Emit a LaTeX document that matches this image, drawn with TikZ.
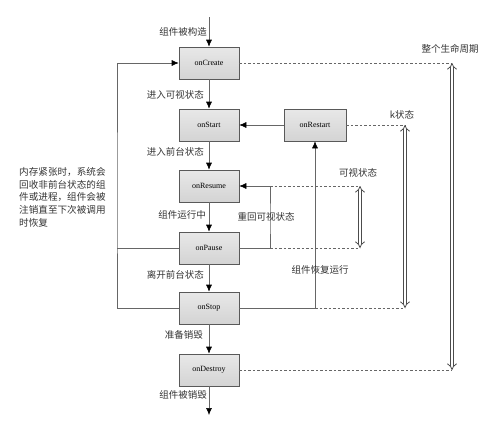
\documentclass[tikz,border=0pt]{standalone}
\usepackage{fontspec}
\setmainfont{Liberation Serif}
\newfontfamily\cjk{Noto Sans CJK SC}
\usetikzlibrary{arrows.meta}
\begin{document}
\begin{tikzpicture}[x=1pt,y=-1pt,
 box/.style={draw=black!65, top color=black!9, bottom color=black!17, minimum width=60pt, minimum height=32pt, inner sep=0pt, font=\fontsize{8}{9}\selectfont, line width=0.6pt},
 lbl/.style={font=\cjk\fontsize{9.5}{11}\selectfont, text=black!80, inner sep=0pt},
 flow/.style={draw=black!60, line width=0.6pt, -{Latex[length=7pt,width=6pt,color=black]}},
 ln/.style={draw=black!60, line width=0.6pt},
 dsh/.style={draw=black!60, line width=0.5pt, dash pattern=on 2.5pt off 2pt},
 dbl/.style={draw=black!70, double=white, line width=0.8pt, double distance=2.6pt, {Implies[length=5pt]}-{Implies[length=5pt]}}]
\useasboundingbox (0,0) rectangle (501,423);

% boxes
\node[box] (create)  at (209,63)  {onCreate};
\node[box] (start)   at (209,125) {onStart};
\node[box] (resume)  at (209,186) {onResume};
\node[box] (pause)   at (209,248) {onPause};
\node[box] (stop)    at (209,308) {onStop};
\node[box] (destroy) at (209,370) {onDestroy};
\node[box, minimum width=62pt] (restart) at (315,125) {onRestart};

\coordinate (top) at (209,17);
\coordinate (bot) at (209,415);

% main flow
\draw[flow] (top) -- (create);
\draw[flow] (create) -- (start);
\draw[flow] (start) -- (resume);
\draw[flow] (resume) -- (pause);
\draw[flow] (pause) -- (stop);
\draw[flow] (stop) -- (destroy);
\draw[flow] (destroy) -- (bot);

% left loop
\coordinate (lx) at (117,200);
\draw[flow] (stop.west) -| (lx) |- (create.west);
\draw[ln] (pause.west) -- (pause.west -| lx);

% restart loop
\draw[flow] (stop.east) -| (restart.south);
\draw[flow] (restart.west) -- (start.east);

% resume loop
\coordinate (rx) at (270,220);
\draw[flow] (pause.east) -| (rx) |- (resume.east);

% dashed guides
\coordinate (wt) at (452,63);
\coordinate (wb) at (452,370);
\coordinate (kt) at (405,125);
\coordinate (kb) at (405,308);
\coordinate (vt) at (360,186);
\coordinate (vb) at (360,248);
\draw[dsh] (create.east) -- (wt);
\draw[dsh] (destroy.east) -- (wb);
\draw[dsh] (restart.east) -- (kt);
\draw[dsh] (stop.east -| restart.south) -- (kb);
\draw[dsh] (resume.east -| rx) -- (vt);
\draw[dsh] (pause.east -| rx) -- (vb);

% double arrows
\draw[dbl] (wt) -- (wb);
\draw[dbl] (kt) -- (kb);
\draw[dbl] (vt) -- (vb);

% labels
\node[lbl, anchor=east] (l1) at (207,32)  {组件被构造};
\node[lbl, anchor=east] (l2) at (204,95)  {进入可视状态};
\node[lbl, anchor=east] (l3) at (204,152) {进入前台状态};
\node[lbl, anchor=east] (l4) at (206,215) {组件运行中};
\node[lbl, anchor=east] (l5) at (204,275) {离开前台状态};
\node[lbl, anchor=east] (l6) at (203,335) {准备销毁};
\node[lbl, anchor=east] (l7) at (207,395) {组件被销毁};
\node[lbl] (l8) at (450,49)  {整个生命周期};
\node[lbl] (l9) at (402,115) {k状态};
\node[lbl] (l10) at (358,173) {可视状态};
\node[lbl] (l11) at (266,217) {重回可视状态};
\node[lbl] (l12) at (320,270) {组件恢复运行};
\node[lbl, anchor=north west, align=left, font=\cjk\fontsize{9.6}{12.8}\selectfont] (note) at (19,167)
 {内存紧张时，系统会\\回收非前台状态的组\\件或进程，组件会被\\注销直至下次被调用\\时恢复};
\end{tikzpicture}
\end{document}
